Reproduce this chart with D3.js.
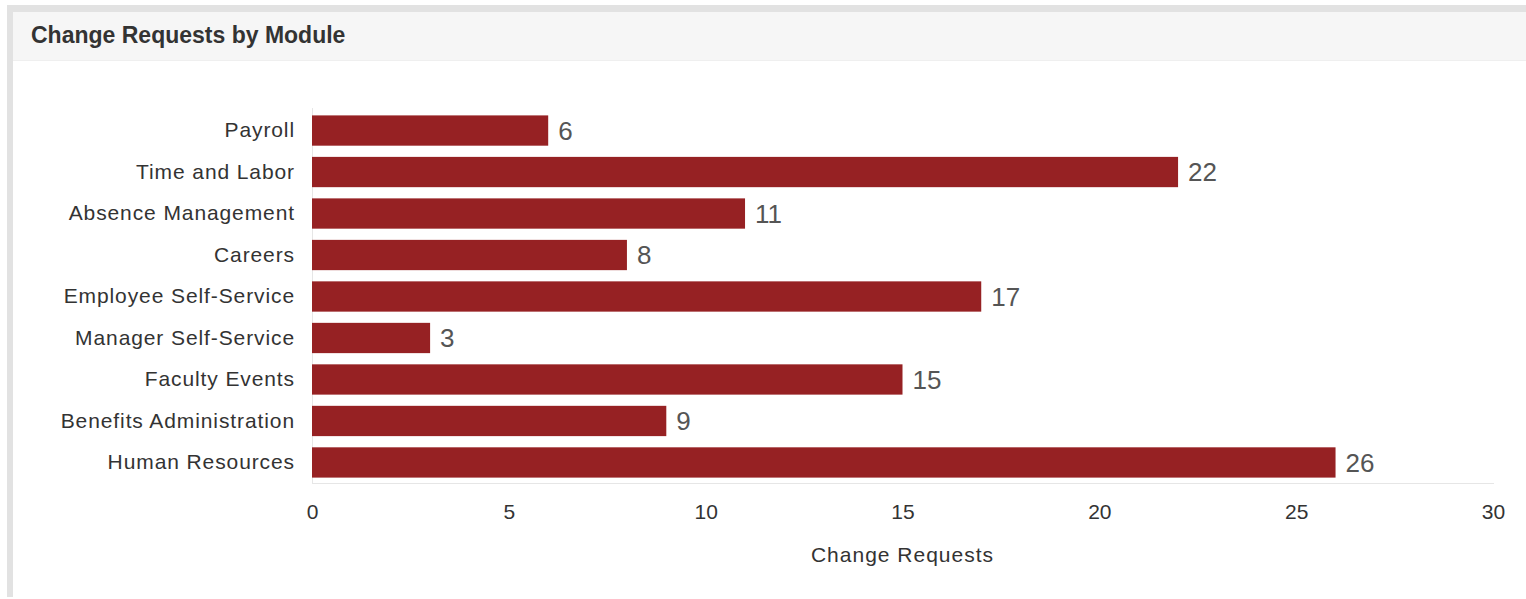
<!DOCTYPE html>
<html><head><meta charset="utf-8">
<script src="https://cdn.jsdelivr.net/npm/d3@7"></script>
<style>
html,body{margin:0;padding:0;background:#fff;}
svg{display:block;}
</style></head>
<body>
<svg id="chart" width="1526" height="599"></svg>
<script>
const categories = ["Payroll","Time and Labor","Absence Management","Careers","Employee Self-Service","Manager Self-Service","Faculty Events","Benefits Administration","Human Resources"];
const values = [6,22,11,8,17,3,15,9,26];
const xTicks = [0,5,10,15,20,25,30];
const title = "Change Requests by Module";
const xTitle = "Change Requests";

const svg = d3.select("#chart");
const W = 1526, H = 599;

// frame
svg.append("rect").attr("x",7).attr("y",5).attr("width",W-7).attr("height",592).attr("fill","#e2e2e2");
svg.append("rect").attr("x",13).attr("y",12).attr("width",W-13).attr("height",585).attr("fill","#fff");
svg.append("rect").attr("x",13).attr("y",12).attr("width",W-13).attr("height",48).attr("fill","#f6f6f6");
svg.append("line").attr("x1",13).attr("x2",W).attr("y1",60.5).attr("y2",60.5).attr("stroke","#efefef");

const font = "'Liberation Sans',Arial,sans-serif";

svg.append("text").attr("x",31).attr("y",43).text(title)
  .attr("font-family",font).attr("font-weight","bold")
  .attr("font-size",23).attr("fill","#333");

const x = d3.scaleLinear().domain([0,30]).range([312,1493]);
const y = d3.scaleBand().domain(categories).range([110,483]).paddingInner(0.27).paddingOuter(0.13);

// axis lines
svg.append("line").attr("x1",312.5).attr("x2",312.5).attr("y1",108).attr("y2",483).attr("stroke","#e6e6e6");
svg.append("line").attr("x1",312).attr("x2",1494).attr("y1",483.5).attr("y2",483.5).attr("stroke","#e6e6e6");

// bars
svg.append("g").selectAll("rect").data(categories).join("rect")
  .attr("x",x(0)).attr("y",d=>y(d)).attr("height",y.bandwidth())
  .attr("width",(d,i)=>x(values[i])-x(0)).attr("fill","#962123");

// value labels
svg.append("g").selectAll("text").data(categories).join("text")
  .attr("x",(d,i)=>x(values[i])+10).attr("y",d=>y(d)+y.bandwidth()/2)
  .attr("dy","0.36em").attr("font-family",font).attr("font-size",26).attr("fill","#555")
  .text((d,i)=>values[i]);

// y axis
const yAxis = d3.axisLeft(y).tickSize(0).tickPadding(17);
const gy = svg.append("g").attr("transform","translate(312,0)").call(yAxis);
gy.select(".domain").remove();
gy.selectAll("text").attr("font-family",font).attr("font-size",21)
  .attr("letter-spacing","0.9px").attr("fill","#333");

// x axis
const xAxis = d3.axisBottom(x).tickValues(xTicks).tickSize(0).tickPadding(21).tickFormat(d3.format("d"));
const gx = svg.append("g").attr("transform","translate(0,483)").call(xAxis);
gx.select(".domain").remove();
gx.selectAll("text").attr("font-family",font).attr("font-size",21).attr("fill","#333");

svg.append("text").attr("x",(x(0)+x(30))/2).attr("y",562).attr("text-anchor","middle")
  .attr("font-family",font).attr("font-size",21).attr("letter-spacing","1px")
  .attr("fill","#333").text(xTitle);
</script>
</body></html>
